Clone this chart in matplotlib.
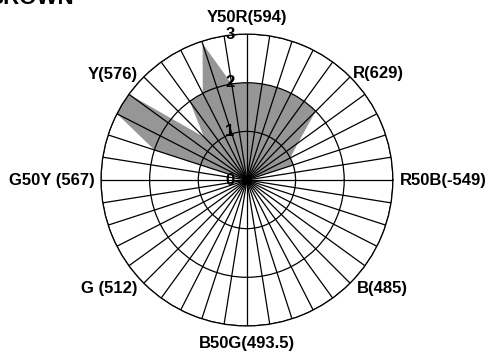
import numpy as np
import matplotlib
matplotlib.use('Agg')
from matplotlib import pyplot as plt

plt.rcParams['font.family'] = ['Liberation Sans', 'DejaVu Sans']
plt.rcParams['font.weight'] = 'bold'

# 40 Munsell hue steps, 9 degrees apart, starting east and going counter-clockwise
hue_angles = np.arange(0, 360, 9)
hue_values = [0, 0, 1.0, 1.0, 1.3, 2, 2, 2, 2, 2,
              2, 2, 2.95, 2, 2, 1.25, 3, 3, 2, 0,
              0, 0, 0, 0, 0, 0, 0, 0, 0, 0,
              0, 0, 0, 0, 0, 0, 0, 0, 0, 0]

label_angles = [0, 45, 90, 135, 180, 225, 270, 315]
label_names = ['R50B(-549)', 'R(629)', 'Y50R(594)', 'Y(576)',
               'G50Y (567)', 'G (512)', 'B50G(493.5)', 'B(485)']
r_ticks = [0, 1, 2, 3]
title = 'BROWN'


def plot():
    fig = plt.figure(figsize=(4.88, 3.56), dpi=100)
    ax = fig.add_axes([0.207, 0.0843, 0.598, 0.820], projection='polar')

    theta = np.deg2rad(hue_angles)
    ax.fill(theta, hue_values, color='#969696', lw=0, zorder=1)

    ax.set_ylim(0, 3)
    ax.set_yticks(r_ticks[1:])
    ax.set_yticklabels([])
    ax.set_thetagrids(hue_angles, [''] * len(hue_angles))
    ax.grid(True, color='black', lw=0.9)
    ax.spines['polar'].set_color('black')
    ax.spines['polar'].set_linewidth(0.9)
    ax.tick_params(length=0)

    align = {0: ('left', 'center', 7, 0), 45: ('left', 'center', 3, 3),
             90: ('center', 'bottom', 0, 9), 135: ('right', 'center', -6, 2),
             180: ('right', 'center', -6, 0), 225: ('right', 'center', -6, -5),
             270: ('center', 'top', 0, -10), 315: ('left', 'center', 7, -5)}
    for a, name in zip(label_angles, label_names):
        ha, va, dx, dy = align[a]
        ax.annotate(name, xy=(np.deg2rad(a), 3), xytext=(dx, dy),
                    textcoords='offset pixels', ha=ha, va=va,
                    fontsize=12, fontweight='bold', annotation_clip=False)

    for r in r_ticks:
        ax.annotate(str(r), xy=(np.pi / 2, r), xytext=(-17, 0),
                    textcoords='offset pixels', ha='center', va='center',
                    fontsize=12, fontweight='bold', zorder=5,
                    annotation_clip=False)

    # title sits mostly above the top edge, as in the original
    fig.text(74 / 488, 1 - 4 / 356, title, ha='right', va='baseline',
             fontsize=16, fontweight='bold')

    plt.savefig('out.png', dpi=100)


if __name__ == '__main__':
    plot()
